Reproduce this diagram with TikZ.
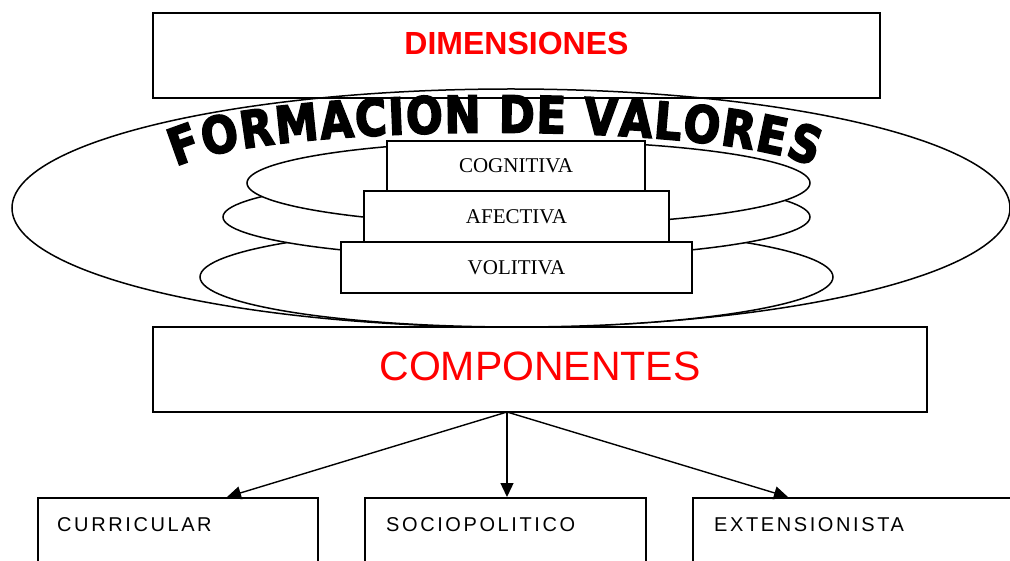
\documentclass[tikz,border=0pt]{standalone}
\usepackage{fontspec}
\setmainfont{Liberation Serif}
\newfontfamily\arial{Liberation Sans}
\newfontfamily\arialsp[LetterSpace=13]{Liberation Sans}
\newfontfamily\wordart[BoldFeatures={FakeBold=3,FakeStretch=0.85}]{DejaVu Sans}
\usetikzlibrary{arrows.meta,decorations.text}
\begin{document}
\begin{tikzpicture}[x=1pt,y=-1pt,
  box/.style={draw, line width=1.6pt, fill=white, inner sep=0pt},
  ell/.style={draw, line width=1.5pt},
  arr/.style={line width=1.4pt, -{Triangle[length=14pt,width=13pt]}},
  inner/.style={box, font=\fontsize{21}{24}\selectfont},
  redt/.style={text=red, inner sep=0pt},
  bott/.style={font=\arialsp\fontsize{20}{24}\selectfont, anchor=base west, inner sep=0pt}]
\useasboundingbox (0,0) rectangle (1010,561);
\fill[white] (0,0) rectangle (1010,561);
% top box
\node[box, fill=none, minimum width=727pt, minimum height=85pt] (dim) at (516.5,55.5) {};
\node[redt, font=\arial\bfseries\fontsize{32}{36}\selectfont] (dimt) at (516.5,43) {DIMENSIONES};
% ellipses
\draw[ell] (511,208) ellipse [x radius=499, y radius=119];
\path[ell, fill=white] (516.5,277) ellipse [x radius=316.5, y radius=50];
\path[ell, fill=white] (516.5,217) ellipse [x radius=293.5, y radius=41];
\path[ell, fill=white] (528.5,183) ellipse [x radius=281.5, y radius=42];
% stacked boxes
\node[inner, minimum width=351pt, minimum height=51pt] (vol) at (516.5,267.5) {VOLITIVA};
\node[inner, minimum width=305pt, minimum height=51pt] (afe) at (516.5,216.5) {AFECTIVA};
\node[inner, minimum width=258pt, minimum height=50pt] (cog) at (516,166) {COGNITIVA};
% word art
\path[decorate, decoration={text along path,
  text={|\wordart\bfseries\fontsize{51}{56}\selectfont|FORMACION DE VALORES},
  text align=fit to path}]
  (176.2,167.4) arc[start angle=193, end angle=347, x radius=327, y radius=45];
% componentes
\node[box, minimum width=774pt, minimum height=85pt] (comp) at (540,369.5) {};
\node[redt, font=\arial\fontsize{41}{45}\selectfont] (compt) at (540,366) {COMPONENTES};
% bottom boxes
\node[box, anchor=north west, minimum width=280pt, minimum height=80pt] (cur) at (37,497) {};
\node[box, anchor=north west, minimum width=281pt, minimum height=80pt] (soc) at (364,497) {};
\node[box, anchor=north west, minimum width=330pt, minimum height=80pt] (ext) at (692,497) {};
\node[bott] (curt) at (57,531) {CURRICULAR};
\node[bott] (soct) at (386,531) {SOCIOPOLITICO};
\node[bott] (extt) at (714,531) {EXTENSIONISTA};
% arrows
\coordinate (src) at (507,412);
\coordinate (t1) at (227,497);
\coordinate (t2) at (507,497);
\coordinate (t3) at (788,497);
\draw[arr] (src) -- (t1);
\draw[arr] (src) -- (t2);
\draw[arr] (src) -- (t3);
\end{tikzpicture}
\end{document}
